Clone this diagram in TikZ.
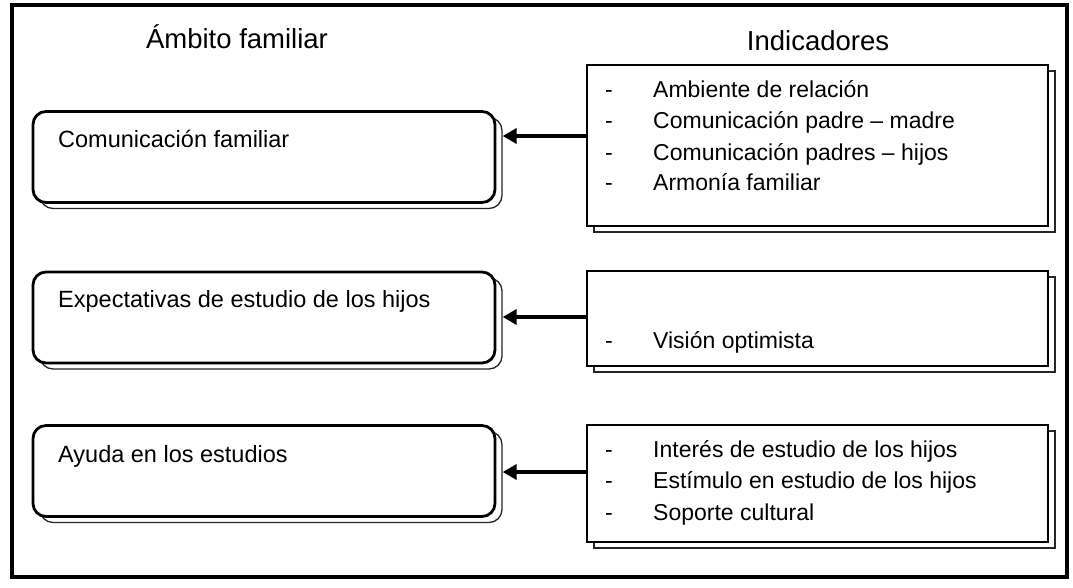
\documentclass[tikz,border=0pt]{standalone}
\usepackage{fontspec}
\setmainfont{Liberation Sans}
\usetikzlibrary{arrows.meta}
\begin{document}
\begin{tikzpicture}[x=1pt,y=-1pt,
  frame/.style={draw,line width=3.2pt,minimum width=1055pt,minimum height=572pt,inner sep=0pt},
  lbox/.style={draw,fill=white,line width=2.8pt,rounded corners=13pt,minimum width=462pt,minimum height=91pt,inner sep=0pt},
  lshadow/.style={draw=black!85,fill=white,line width=1.3pt,rounded corners=13pt,minimum width=462pt,minimum height=91pt,inner sep=0pt},
  rbox/.style={draw,fill=white,line width=2.8pt,minimum width=461pt,inner sep=0pt},
  rshadow/.style={draw=black!85,fill=white,line width=1.3pt,minimum width=461pt,inner sep=0pt},
  title/.style={font=\fontsize{27.5}{30}\selectfont,anchor=base,inner sep=0pt},
  ltext/.style={font=\fontsize{23.5}{26}\selectfont,anchor=base west,inner sep=0pt},
  item/.style={font=\fontsize{23}{26}\selectfont,anchor=base west,inner sep=0pt},
  dashmark/.style={font=\fontsize{23}{26}\selectfont,anchor=base,inner sep=0pt},
  arr/.style={line width=3.8pt,-{Triangle[length=14pt,width=15pt]}}
]
\useasboundingbox (0,0) rectangle (1073,587);
\node[frame] (frame) at (539.5,291) {};

% titles
\node[title] (t1) at (237,48) {Ámbito familiar};
\node[title] (t2) at (818,50) {Indicadores};

% shadows
\node[lshadow] (s1) at (271,163) {};
\node[lshadow] (s2) at (271,323.5) {};
\node[lshadow] (s3) at (271,477) {};
\node[rshadow,minimum height=161pt] (q1) at (824.5,151.5) {};
\node[rshadow,minimum height=95pt] (q2) at (824.5,324.5) {};
\node[rshadow,minimum height=117pt] (q3) at (824.5,489.5) {};

% left boxes
\node[lbox] (b1) at (264,157) {};
\node[lbox] (b2) at (264,317.5) {};
\node[lbox] (b3) at (264,471) {};
\node[ltext] (l1) at (58,147) {Comunicación familiar};
\node[ltext] (l2) at (58,307) {Expectativas de estudio de los hijos};
\node[ltext] (l3) at (58,462) {Ayuda en los estudios};

% right boxes
\node[rbox,minimum height=161pt] (r1) at (817.5,145.5) {};
\node[rbox,minimum height=95pt] (r2) at (817.5,318.5) {};
\node[rbox,minimum height=117pt] (r3) at (817.5,483.5) {};

\node[dashmark] (d11) at (609,97) {-};
\node[item] (i11) at (653,97) {Ambiente de relación};
\node[dashmark] (d12) at (609,128) {-};
\node[item] (i12) at (653,128) {Comunicación padre – madre};
\node[dashmark] (d13) at (609,160) {-};
\node[item] (i13) at (653,160) {Comunicación padres – hijos};
\node[dashmark] (d14) at (609,190) {-};
\node[item] (i14) at (653,190) {Armonía familiar};

\node[dashmark] (d21) at (609,348) {-};
\node[item] (i21) at (653,348) {Visión optimista};

\node[dashmark] (d31) at (609,457) {-};
\node[item] (i31) at (653,457) {Interés de estudio de los hijos};
\node[dashmark] (d32) at (609,488) {-};
\node[item] (i32) at (653,488) {Estímulo en estudio de los hijos};
\node[dashmark] (d33) at (609,520) {-};
\node[item] (i33) at (653,520) {Soporte cultural};

% connectors
\coordinate (a1) at (0,136);
\coordinate (a2) at (0,317);
\coordinate (a3) at (0,472);
\draw[arr] (r1.west |- a1) -- (s1.east |- a1);
\draw[arr] (r2.west |- a2) -- (s2.east |- a2);
\draw[arr] (r3.west |- a3) -- (s3.east |- a3);
\end{tikzpicture}
\end{document}
